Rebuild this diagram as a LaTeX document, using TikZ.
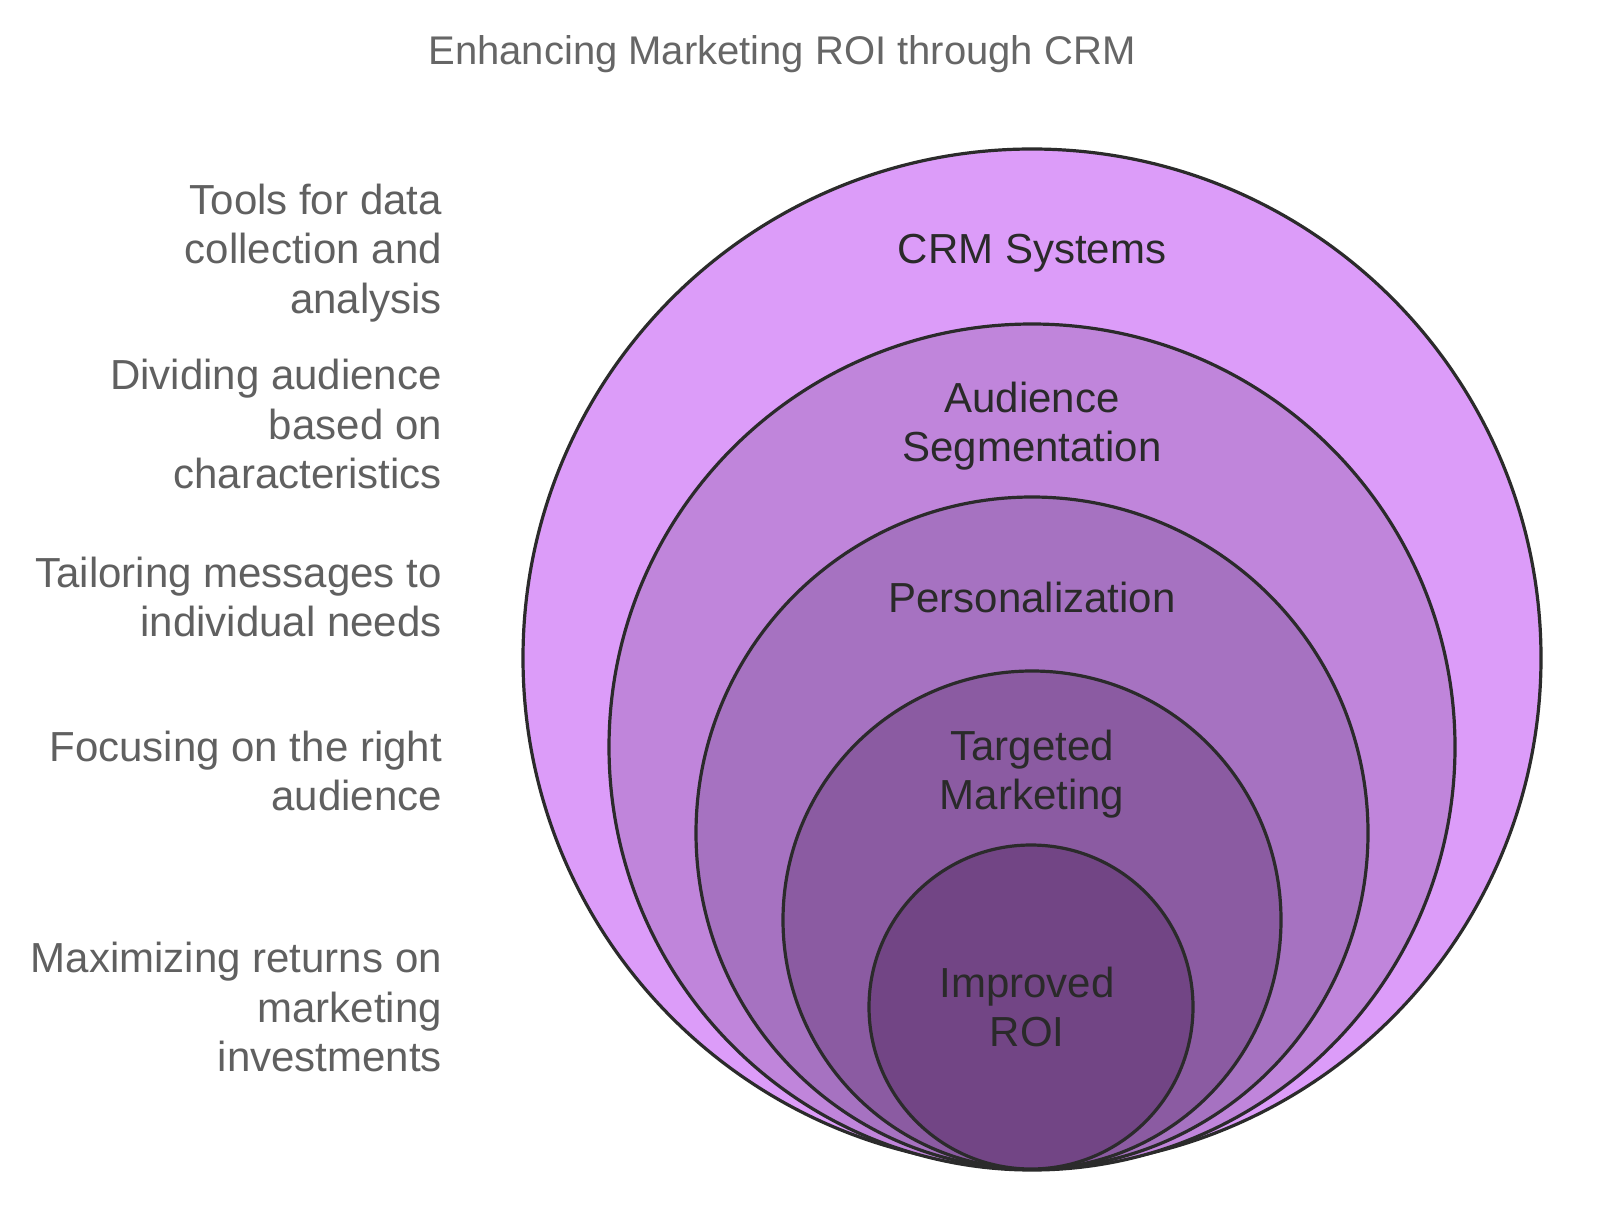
\documentclass[tikz,border=0pt]{standalone}
\usepackage{fontspec}
\setmainfont{Liberation Sans}
\definecolor{cA}{HTML}{DC9CF9}
\definecolor{cB}{HTML}{C085DB}
\definecolor{cC}{HTML}{A672C1}
\definecolor{cD}{HTML}{8B5BA2}
\definecolor{cE}{HTML}{724585}
\definecolor{ring}{HTML}{2B2B2B}
\definecolor{side}{HTML}{606060}
\definecolor{ttl}{HTML}{666666}
\definecolor{inner}{HTML}{2A2A2A}
\begin{document}
\begin{tikzpicture}[x=1pt,y=-1pt,
  disc/.style={draw=ring,line width=3.2pt},
  sidelabel/.style={anchor=east,align=right,inner sep=0pt,text=side,font=\fontsize{42}{49.5}\selectfont},
  inlabel/.style={align=center,inner sep=0pt,text=inner,font=\fontsize{42}{49.5}\selectfont}]
\useasboundingbox[fill=white] (0,0) rectangle (1600,1220);
\node[inner sep=0pt,text=ttl,font=\fontsize{40}{44}\selectfont] (title) at (782,54) {Enhancing Marketing ROI through CRM};
\fill[disc,fill=cA] (1032,658) circle (509);
\fill[disc,fill=cB] (1032,747) circle (423);
\fill[disc,fill=cC] (1032,833) circle (336);
\fill[disc,fill=cD] (1032,920) circle (249);
\fill[disc,fill=cE] (1031,1007) circle (162);
\node[inlabel] (l1) at (1032,253) {CRM Systems};
\node[inlabel] (l2) at (1032,426) {Audience\\Segmentation};
\node[inlabel] (l3) at (1032,597) {Personalization};
\node[inlabel] (l4) at (1032,774) {Targeted\\Marketing};
\node[inlabel] (l5) at (1027,1007) {Improved\\ROI};
\node[sidelabel] (s1) at (442,253) {Tools for data\\collection and\\analysis};
\node[sidelabel] (s2) at (442,424) {Dividing audience\\based on\\characteristics};
\node[sidelabel] (s3) at (442,597) {Tailoring messages to\\individual needs};
\node[sidelabel] (s4) at (442,771) {Focusing on the right\\audience};
\node[sidelabel] (s5) at (442,1007) {Maximizing returns on\\marketing\\investments};
\end{tikzpicture}
\end{document}
